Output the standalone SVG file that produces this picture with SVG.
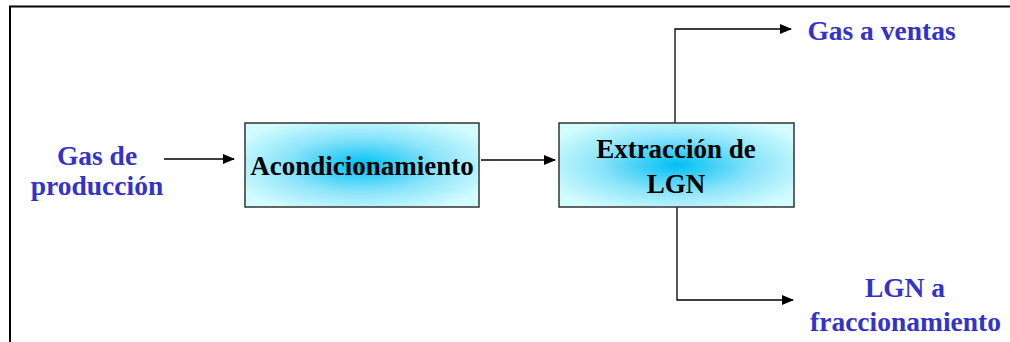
<svg xmlns="http://www.w3.org/2000/svg" width="1010" height="342" viewBox="0 0 1010 342">
<defs>
<radialGradient id="g" cx="50%" cy="50%" r="60%">
<stop offset="0" stop-color="#00c0f4"/>
<stop offset="0.55" stop-color="#8ce4fa"/>
<stop offset="1" stop-color="#d2fcfe"/>
</radialGradient>
<marker id="ah" markerWidth="12" markerHeight="10" refX="11" refY="5" orient="auto" markerUnits="userSpaceOnUse">
<path d="M0,0 L12,5 L0,10 Z" fill="#000"/>
</marker>
</defs>
<style>
.box{fill:url(#g);stroke:#333;stroke-width:1.5}
.lbl{font-family:"Liberation Serif",serif;font-weight:bold;font-size:27px;text-anchor:middle;fill:#000}
.blue{font-family:"Liberation Serif",serif;font-weight:bold;font-size:27.5px;text-anchor:middle;fill:#3333cc}
.c{fill:none;stroke:#000;stroke-width:1.3}
</style>
<rect width="1010" height="342" fill="#fff"/>
<g id="frame">
<path d="M10,342 V6.5 H1010" fill="none" stroke="#000" stroke-width="2"/>
</g>
<g id="connectors">
<path class="c" d="M164,159 H234" marker-end="url(#ah)"/>
<path class="c" d="M481,160 H555" marker-end="url(#ah)"/>
<path class="c" d="M675,123 V29 H791" marker-end="url(#ah)"/>
<path class="c" d="M677,207 V300 H793" marker-end="url(#ah)"/>
</g>
<g id="gas-produccion">
<text class="blue" x="97" y="165">Gas de</text>
<text class="blue" x="97" y="195">producción</text>
</g>
<g id="acondicionamiento">
<rect class="box" x="245" y="123" width="234" height="84"/>
<text class="lbl" x="362" y="175">Acondicionamiento</text>
</g>
<g id="extraccion">
<rect class="box" x="559" y="123" width="235" height="84"/>
<text class="lbl" x="676" y="158">Extracción de</text>
<text class="lbl" x="676" y="193">LGN</text>
</g>
<g id="gas-ventas">
<text class="blue" x="881.5" y="40">Gas a ventas</text>
</g>
<g id="lgn-fraccionamiento">
<text class="blue" x="905" y="297">LGN a</text>
<text class="blue" x="905.5" y="331">fraccionamiento</text>
</g>
</svg>
